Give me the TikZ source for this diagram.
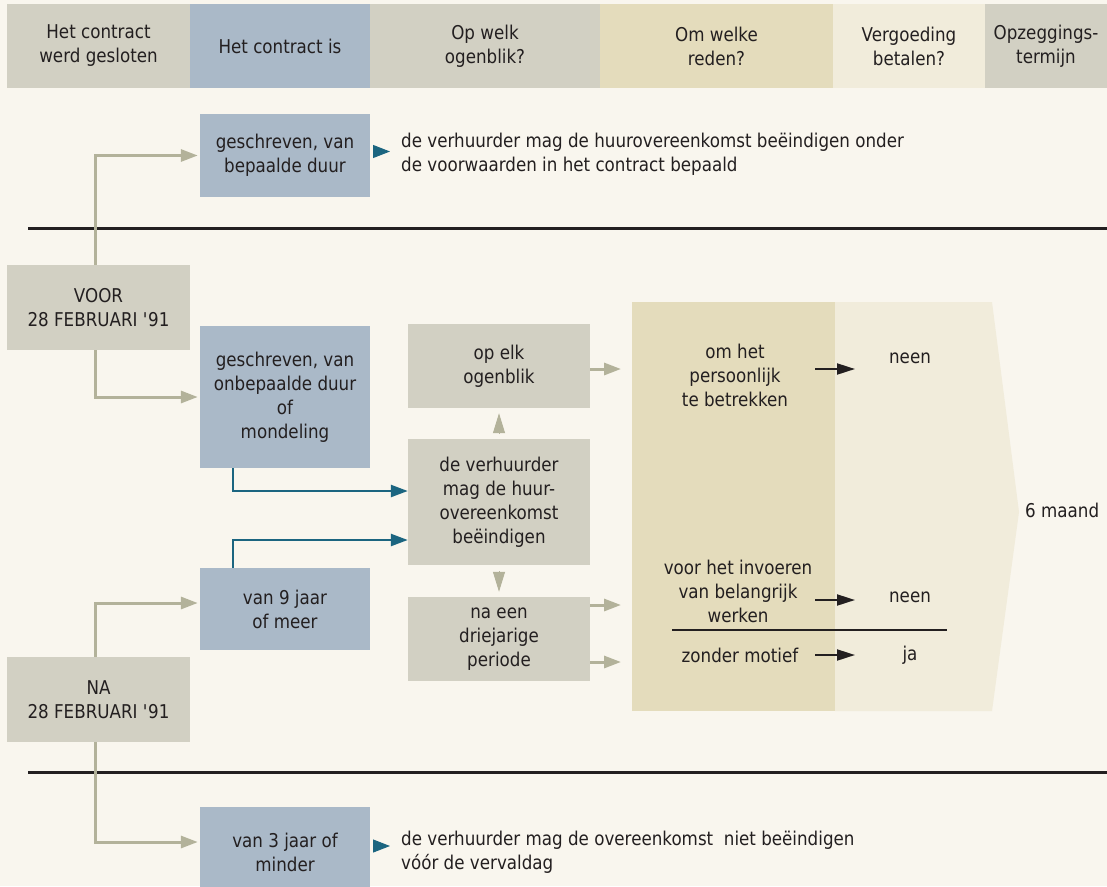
\documentclass[tikz,border=0pt]{standalone}
\usepackage{fontspec}
\setmainfont{DejaVu Sans}[FakeStretch=0.88]
\usetikzlibrary{arrows.meta,positioning}
\definecolor{paper}{HTML}{F9F6EE}
\definecolor{hgray}{HTML}{D2D0C3}
\definecolor{hblue}{HTML}{AAB9C8}
\definecolor{htan}{HTML}{E4DCBC}
\definecolor{hcream}{HTML}{F1ECDB}
\definecolor{lgray}{HTML}{B3B29A}
\definecolor{teal}{HTML}{1B6580}
\definecolor{ink}{HTML}{231F20}
\tikzset{
  txt/.style={font=\fontsize{19}{24}\selectfont, text=ink, align=center, inner sep=0pt},
  hd/.style={txt, fill=#1, minimum height=84pt},
  bx/.style={txt, fill=#1},
  gline/.style={draw=lgray, line width=3pt, -{Triangle[length=17pt,width=12pt]}},
  gtip/.style={draw=lgray, line width=1pt, -{Triangle[length=20pt,width=12pt]}, shorten <=6pt, shorten >=5pt},
  tline/.style={draw=teal, line width=2.5pt, -{Triangle[length=17pt,width=12pt]}},
  ttip/.style={draw=teal, line width=1pt, -{Triangle[length=17pt,width=13pt]}, shorten <=3pt, shorten >=11pt},
  karrow/.style={draw=ink, line width=2pt, -{Triangle[length=18pt,width=11pt]}},
  sep/.style={draw=ink, line width=3pt}
}
\begin{document}
\begin{tikzpicture}[x=1pt,y=-1pt]%,>=latex]
\useasboundingbox (0,0) rectangle (1107,886);
\fill[paper] (0,0) rectangle (1107,886);
% header
\node[hd=hgray, minimum width=183pt] (h1) at (98.5,46) {Het contract\\werd gesloten};
\node[hd=hblue, minimum width=180pt] (h2) at (280,46) {Het contract is};
\node[hd=hgray, minimum width=230pt] (h3) at (485,46) {Op welk\\ogenblik?};
\node[hd=htan, minimum width=233pt] (h4) at (716.5,46) {Om welke\\reden?};
\node[hd=hcream, minimum width=152pt] (h5) at (909,46) {Vergoeding\\betalen?};
\node[hd=hgray, minimum width=122pt] (h6) at (1046,46) {Opzeggings-\\termijn};
\draw[sep] (28,228) -- (1107,228);
\draw[sep] (28,772) -- (1107,772);
% reason area
\fill[hcream] (835,302) -- (992,302) -- (1019,512) -- (992,711) -- (835,711) -- cycle;
\node[fill=htan, minimum width=203pt, minimum height=409pt, inner sep=0pt, anchor=north west] (reden) at (632,302) {};
\node[txt, anchor=west] (maand) at (1025,510) {6 maand};
% date boxes
\node[bx=hgray, minimum width=183pt, minimum height=85pt] (voor) at (98.5,307.5) {VOOR\\28 FEBRUARI \textquotesingle91};
\node[bx=hgray, minimum width=183pt, minimum height=85pt] (na) at (98.5,699.5) {NA\\28 FEBRUARI \textquotesingle91};
% contract types
\node[bx=hblue, minimum width=170pt, minimum height=83pt] (bepaald) at (285,155.5) {geschreven, van\\bepaalde duur};
\node[bx=hblue, minimum width=170pt, minimum height=142pt] (onbep) at (285,397) {geschreven, van\\onbepaalde duur\\of\\mondeling};
\node[bx=hblue, minimum width=170pt, minimum height=82pt] (negen) at (285,609) {van 9 jaar\\of meer};
\node[bx=hblue, minimum width=170pt, minimum height=90pt] (drie) at (285,852) {van 3 jaar of\\minder};
% moment
\node[bx=hgray, minimum width=182pt, minimum height=84pt] (opelk) at (499,366) {op elk\\ogenblik};
\node[bx=hgray, minimum width=182pt, minimum height=126pt] (verh) at (499,502) {de verhuurder\\mag de huur-\\overeenkomst\\beëindigen};
\node[bx=hgray, minimum width=182pt, minimum height=84pt] (driejr) at (499,639) {na een\\driejarige\\periode};
% statements
\node[txt, align=left, anchor=west] (st1) at (401,154) {de verhuurder mag de huurovereenkomst beëindigen onder\\de voorwaarden in het contract bepaald};
\node[txt, align=left, anchor=west] (st2) at (401,852) {de verhuurder mag de overeenkomst\ \ niet beëindigen\\vóór de vervaldag};
% reasons
\node[txt] (r1) at (735,375) {om het\\persoonlijk\\te betrekken};
\node[txt] (r2) at (738,591) {voor het invoeren\\van belangrijk\\werken};
\node[txt] (r3) at (740,655) {zonder motief};
\node[txt] (n1) at (910,358) {neen};
\node[txt] (n2) at (910,597) {neen};
\node[txt] (n3) at (910,655) {ja};
\draw[sep, line width=2.5pt] (672,630) -- (947,630);
% connectors
\draw[gline, shorten >=2pt] ([xshift=-3.5pt]voor.north) |- (bepaald.west);
\draw[gline, shorten >=2pt] ([xshift=-3.5pt]voor.south) |- (onbep.west);
\draw[gline, shorten >=2pt] ([xshift=-3.5pt]na.north) |- ([yshift=6pt]negen.west);
\draw[gline, shorten >=2pt] ([xshift=-3.5pt]na.south) |- ([yshift=10pt]drie.west);
\draw[tline] ([xshift=-52pt]onbep.south) |- ([yshift=11pt]verh.west);
\draw[tline] ([xshift=-52pt]negen.north) |- ([yshift=-38pt]verh.west);
\draw[gtip] (verh.north) -- (opelk.south);
\draw[gtip] (verh.south) -- (driejr.north);
\draw[gline, shorten >=11pt] ([yshift=-3pt]opelk.east) -- ([yshift=-3pt]opelk.east -| reden.west);
\draw[gline, shorten >=11pt] ([yshift=34pt]driejr.east) -- ([yshift=34pt]driejr.east -| reden.west);
\draw[gline, shorten >=11pt] ([yshift=-23pt]driejr.east) -- ([yshift=-23pt]driejr.east -| reden.west);
\draw[ttip] ([yshift=4pt]bepaald.east) -- ([yshift=4pt]bepaald.east -| st1.west);
\draw[ttip] ([yshift=6pt]drie.east) -- ([yshift=6pt]drie.east -| st2.west);
\coordinate (p1) at (815,369); \coordinate (q1) at (855,369);
\coordinate (p2) at (815,600); \coordinate (q2) at (855,600);
\coordinate (p3) at (815,655); \coordinate (q3) at (855,655);
\draw[karrow] (p1) -- (q1);
\draw[karrow] (p2) -- (q2);
\draw[karrow] (p3) -- (q3);
\end{tikzpicture}
\end{document}
